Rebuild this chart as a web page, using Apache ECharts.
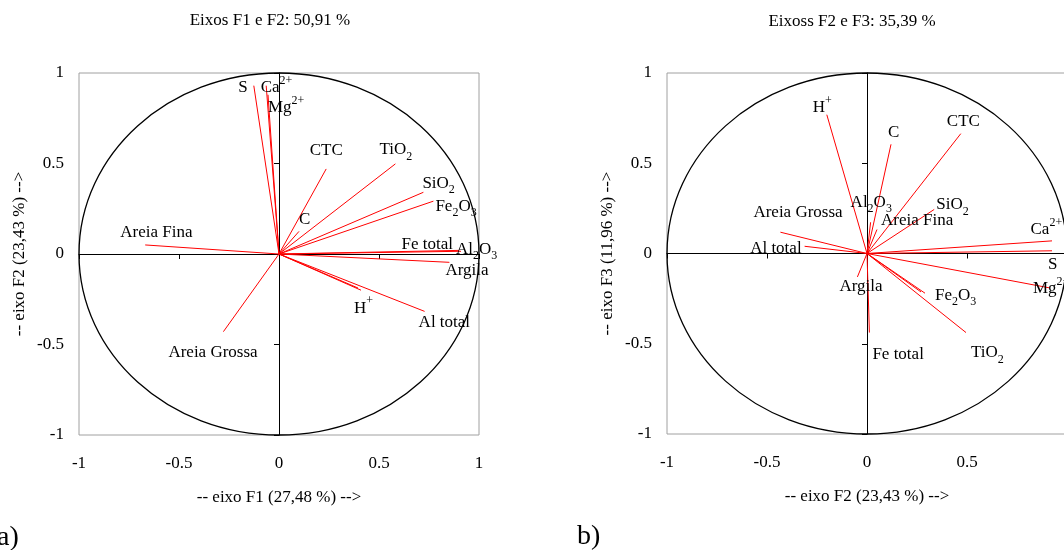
<!DOCTYPE html>
<html>
<head>
<meta charset="utf-8">
<script src="https://cdn.jsdelivr.net/npm/echarts@6/dist/echarts.min.js"></script>
<style>
html, body { margin: 0; padding: 0; background: #ffffff; }
#chart { width: 1064px; height: 550px; }
</style>
</head>
<body>
<div id="chart"></div>
<script>
// a) eixos F1 e F2
const labelsA = ['S', 'Ca{sp|2+}', 'Mg{sp|2+}', 'CTC', 'TiO{sb|2}', 'SiO{sb|2}', 'Fe{sb|2}O{sb|3}', 'C',
    'Areia Fina', 'Fe total', 'Al{sb|2}O{sb|3}', 'Argila', 'H{sp|+}', '', 'Al total', 'Areia Grossa'];
const f1A = [-0.126, -0.064, -0.055, 0.236, 0.582, 0.722, 0.772, 0.100, -0.669, 0.900, 0.910, 0.852, 0.410, 0.395, 0.728, -0.278];
const f2A = [0.930, 0.930, 0.880, 0.470, 0.498, 0.341, 0.292, 0.125, 0.050, 0.020, 0.015, -0.046, -0.200, -0.188, -0.317, -0.429];

// b) eixos F2 e F3
const labelsB = ['H{sp|+}', 'C', 'CTC', 'Al{sb|2}O{sb|3}', 'SiO{sb|2}', 'Areia Fina', 'Areia Grossa', 'Al total',
    'Ca{sp|2+}', 'S', 'Mg{sp|2+}', 'Argila', 'Fe{sb|2}O{sb|3}', '', 'TiO{sb|2}', 'Fe total'];
const f2B = [-0.201, 0.120, 0.469, 0.018, 0.336, 0.050, -0.433, -0.312, 0.925, 0.925, 0.910, -0.048, 0.290, 0.270, 0.495, 0.012];
const f3B = [0.769, 0.605, 0.664, 0.173, 0.244, 0.133, 0.118, 0.040, 0.070, 0.015, -0.190, -0.130, -0.220, -0.213, -0.438, -0.438];

const ticks = [-1, -0.5, 0, 0.5, 1];

// posição dos rótulos (dx, dy em px, alinhamento)
const offA = [[-6, 2, 'right'], [-5.5, 2, 'left'], [0, 13, 'left'], [0, -18, 'center'], [-16, -14, 'left'],
    [-1, -9, 'left'], [2, 5, 'left'], [0, -12, 'left'], [-25, -12, 'left'], [-6, -6, 'right'], [-5, -2, 'left'],
    [-4, 8, 'left'], [-7, 18, 'left'], [0, 0, 'left'], [-6, 11, 'left'], [-55, 21, 'left']];
const offB = [[-14, -7, 'left'], [-3, -12, 'left'], [-14, -12, 'left'], [-20, -20, 'left'], [2, -5, 'left'],
    [4, -9, 'left'], [-27, -20, 'left'], [-3, 2, 'right'], [-21.5, -11, 'left'], [-4, 13.5, 'left'],
    [-16, 1, 'left'], [-18, 10, 'left'], [10, 2, 'left'], [0, 0, 'left'], [5, 20, 'left'], [3, 21.5, 'left']];

const FONT = 'Liberation Serif';
const rich = {
    sp: { fontSize: 12, lineHeight: 11, verticalAlign: 'top', fontFamily: FONT, color: '#000' },
    sb: { fontSize: 12, lineHeight: 20, verticalAlign: 'bottom', fontFamily: FONT, color: '#000' }
};

function labAxis(grid, name, isY) {
    return {
        type: 'value', gridIndex: grid, min: ticks[0], max: ticks[ticks.length - 1], interval: 0.5,
        position: isY ? 'left' : 'bottom',
        axisLine: { show: false, onZero: false },
        axisTick: { show: false },
        splitLine: { show: false },
        axisLabel: { margin: isY ? 15 : 20, fontSize: 17, color: '#000', fontFamily: FONT },
        name: name, nameLocation: 'middle', nameGap: isY ? 51 : 54,
        nameTextStyle: { fontSize: 17, color: '#000', fontFamily: FONT }
    };
}
function zeroAxis(grid, isY) {
    return {
        type: 'value', gridIndex: grid, min: ticks[0], max: ticks[ticks.length - 1], interval: 0.5,
        position: isY ? 'left' : 'bottom',
        axisLine: { show: true, onZero: true, lineStyle: { color: '#000', width: 1 } },
        axisTick: { show: true, length: 5, lineStyle: { color: '#000' } },
        splitLine: { show: false },
        axisLabel: { show: false }
    };
}

function circle(ax) {
    return {
        type: 'custom', xAxisIndex: ax, yAxisIndex: ax, silent: true, clip: false, z: 3,
        data: [[0, 0]],
        renderItem: function (params, api) {
            const c = api.coord([0, 0]);
            const e = api.coord([1, 1]);
            return {
                type: 'ellipse',
                shape: { cx: c[0], cy: c[1], rx: e[0] - c[0], ry: c[1] - e[1] },
                style: { fill: 'none', stroke: '#000', lineWidth: 1.3 }
            };
        }
    };
}
function vectors(ax, xs, ys) {
    return {
        type: 'lines', coordinateSystem: 'cartesian2d', xAxisIndex: ax, yAxisIndex: ax, silent: true, z: 4,
        lineStyle: { color: '#ff0000', width: 1, opacity: 1 },
        data: xs.map((x, i) => ({ coords: [[0, 0], [x, ys[i]]] }))
    };
}
function names(ax, xs, ys, labels, off) {
    return {
        type: 'scatter', xAxisIndex: ax, yAxisIndex: ax, silent: true, symbolSize: 0, z: 5,
        itemStyle: { opacity: 1 },
        data: xs.map((x, i) => ({
            value: [x, ys[i]],
            label: { offset: [off[i][0], off[i][1]], align: off[i][2], formatter: labels[i] }
        })),
        label: {
            show: true, position: 'inside', verticalAlign: 'middle', fontSize: 17, lineHeight: 26,
            color: '#000', opacity: 1, fontFamily: FONT, rich: rich
        }
    };
}

function txt(x, y, s, size, align) {
    return {
        type: 'text', x: x, y: y, silent: true,
        style: { text: s, fill: '#000', fontSize: size, fontFamily: FONT, align: align, verticalAlign: 'middle' }
    };
}

const chart = echarts.init(document.getElementById('chart'));
chart.setOption({
    animation: false,
    textStyle: { fontFamily: FONT },
    grid: [
        { left: 79, top: 73, width: 400, height: 362, outerBoundsMode: 'none', show: true, borderColor: '#a0a0a0', borderWidth: 1, backgroundColor: 'transparent' },
        { left: 667, top: 73, width: 400, height: 361, outerBoundsMode: 'none', show: true, borderColor: '#a0a0a0', borderWidth: 1, backgroundColor: 'transparent' }
    ],
    xAxis: [labAxis(0, '-- eixo F1 (27,48 %) -->', false), zeroAxis(0, false),
        labAxis(1, '-- eixo F2 (23,43 %) -->', false), zeroAxis(1, false)],
    yAxis: [labAxis(0, '-- eixo F2 (23,43 %) -->', true), zeroAxis(0, true),
        labAxis(1, '-- eixo F3 (11,96 %) -->', true), zeroAxis(1, true)],
    series: [
        circle(1), vectors(1, f1A, f2A), names(1, f1A, f2A, labelsA, offA),
        circle(3), vectors(3, f2B, f3B), names(3, f2B, f3B, labelsB, offB)
    ],
    graphic: [
        txt(270, 21, 'Eixos F1 e F2: 50,91 %', 17, 'center'),
        txt(852, 22, 'Eixoss F2 e F3: 35,39 %', 17, 'center'),
        txt(-3, 538, 'a)', 28, 'left'),
        txt(577, 537, 'b)', 28, 'left')
    ]
});
</script>
</body>
</html>
